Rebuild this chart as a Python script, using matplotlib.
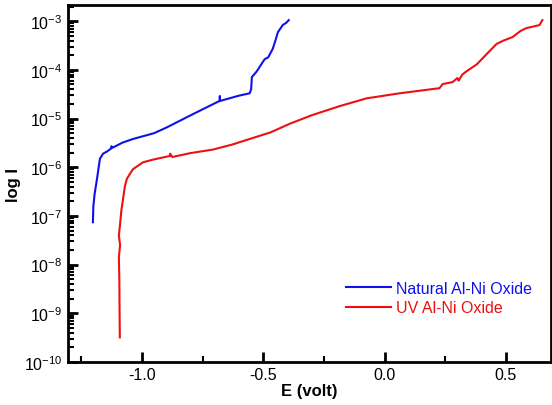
import matplotlib
matplotlib.use("Agg")
import matplotlib.pyplot as plt
from matplotlib.ticker import FixedLocator, NullFormatter

plt.rcParams['font.family'] = ['Liberation Sans', 'DejaVu Sans']
plt.rcParams['mathtext.fontset'] = 'custom'
plt.rcParams['mathtext.rm'] = 'Liberation Sans'
plt.rcParams['mathtext.default'] = 'regular'

# Natural Al-Ni Oxide
E_nat = [-1.202, -1.200, -1.195, -1.185, -1.173, -1.160, -1.144, -1.128, -1.125, -1.122,
         -1.080, -1.037, -0.950, -0.897, -0.790, -0.680, -0.679, -0.678, -0.600, -0.556,
         -0.550, -0.547, -0.527, -0.510, -0.494, -0.480, -0.461, -0.450, -0.440, -0.420,
         -0.405, -0.395]
I_nat = [7.4e-8, 1.6e-7, 2.8e-7, 5.8e-7, 1.5e-6, 1.9e-6, 2.1e-6, 2.4e-6, 2.7e-6, 2.5e-6,
         3.2e-6, 3.8e-6, 5.0e-6, 6.6e-6, 1.23e-5, 2.3e-5, 2.9e-5, 2.3e-5, 2.95e-5, 3.3e-5,
         4.0e-5, 7.1e-5, 9.3e-5, 1.26e-4, 1.66e-4, 1.8e-4, 2.7e-4, 4.0e-4, 5.9e-4, 8.3e-4,
         9.3e-4, 1.05e-3]

# UV Al-Ni Oxide
E_uv = [-1.091, -1.092, -1.093, -1.095, -1.090, -1.095, -1.090, -1.085, -1.078, -1.070,
        -1.062, -1.037, -0.996, -0.950, -0.885, -0.884, -0.875, -0.800, -0.708, -0.630,
        -0.556, -0.470, -0.391, -0.300, -0.185, -0.074, 0.062, 0.226, 0.239, 0.280,
        0.300, 0.305, 0.320, 0.337, 0.380, 0.420, 0.461, 0.490, 0.527, 0.560, 0.584,
        0.638, 0.650]
I_uv = [3.2e-10, 1.0e-9, 5.0e-9, 1.4e-8, 2.5e-8, 4.0e-8, 6.8e-8, 1.26e-7, 2.2e-7, 4.1e-7,
        5.8e-7, 9.1e-7, 1.26e-6, 1.45e-6, 1.7e-6, 1.9e-6, 1.62e-6, 1.95e-6, 2.3e-6, 2.9e-6,
        3.8e-6, 5.2e-6, 7.8e-6, 1.17e-5, 1.8e-5, 2.6e-5, 3.3e-5, 4.2e-5, 5.1e-5, 5.6e-5,
        6.8e-5, 6.0e-5, 8.0e-5, 9.3e-5, 1.3e-4, 2.1e-4, 3.4e-4, 4.0e-4, 4.7e-4, 6.3e-4, 7.2e-4,
        8.3e-4, 1.05e-3]

labels = ['Natural Al-Ni Oxide', 'UV Al-Ni Oxide']
colors = ['#1010ee', '#ee1010']
xticks = [-1.0, -0.5, 0.0, 0.5]
xtick_labels = ['-1.0', '-0.5', '0.0', '0.5']
xminor = [-1.25, -0.75, -0.25, 0.25]
yexps = [-10, -9, -8, -7, -6, -5, -4, -3]

fig = plt.figure(figsize=(5.52, 4.06), dpi=100)
ax = fig.add_axes([0.123, 0.106, 0.875, 0.879])

ax.plot(E_nat, I_nat, color=colors[0], lw=1.5, label=labels[0])
ax.plot(E_uv, I_uv, color=colors[1], lw=1.5, label=labels[1])

ax.set_yscale('log')
ax.set_xlim(-1.305, 0.685)
ax.set_ylim(1e-10, 10**-2.67)

ax.set_xticks(xticks)
ax.set_xticklabels(xtick_labels)
ax.xaxis.set_minor_locator(FixedLocator(xminor))
ax.set_yticks([10.0**e for e in yexps])
ax.set_yticklabels([r'$10^{%d}$' % e for e in yexps])
minor_y = [m * 10.0**e for e in yexps[:-1] for m in range(2, 10)] + [m * 1e-3 for m in (2,)]
ax.yaxis.set_minor_locator(FixedLocator(minor_y))
ax.yaxis.set_minor_formatter(NullFormatter())

ax.tick_params(which='major', direction='in', length=7, width=2, labelsize=11.5)
ax.tick_params(which='minor', direction='in', length=4, width=1.5)
ax.tick_params(axis='y', pad=4)
for s in ax.spines.values():
    s.set_linewidth(2)

ax.set_xlabel('E (volt)', fontsize=12, fontweight='bold', labelpad=1)
ax.set_ylabel('log I', fontsize=12, fontweight='bold', labelpad=2)

leg = ax.legend(loc='lower right', bbox_to_anchor=(0.99, 0.09), frameon=False,
                fontsize=11.5, handlelength=2.8, handletextpad=0.3, labelspacing=0.3)
for t, c in zip(leg.get_texts(), colors):
    t.set_color(c)

fig.savefig('out.png', dpi=100)
